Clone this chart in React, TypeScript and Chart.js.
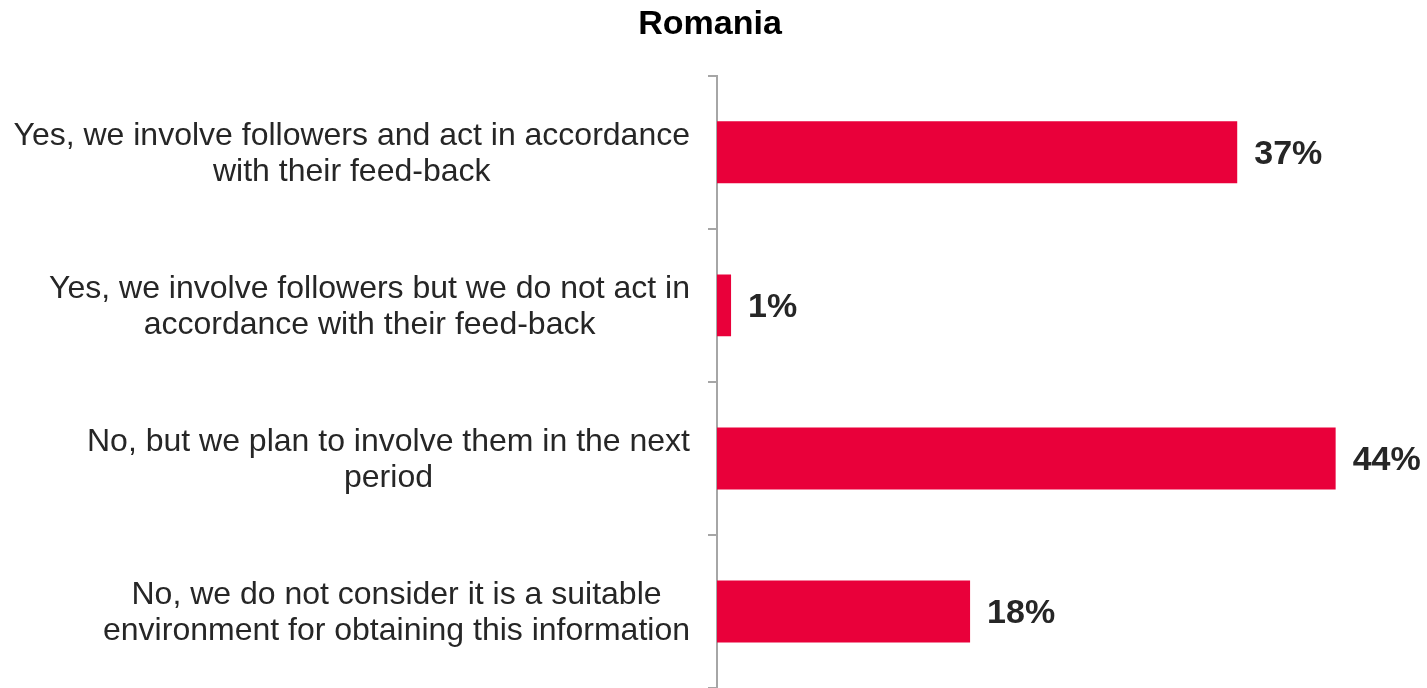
import React, { useEffect, useRef } from "react";
import { Chart, registerables } from "chart.js";

Chart.register(...registerables);

const chartTitle = "Romania";
const categoryLines: string[][] = [
  ["Yes, we involve followers and act in accordance", "with their feed-back"],
  ["Yes, we involve followers but we do not act in", "accordance with their feed-back"],
  ["No, but we plan to involve them in the next", "period"],
  ["No, we do not consider it is a suitable", "environment for obtaining this information"],
];
const values: number[] = [37, 1, 44, 18];
const xMax = 50;

const BAR_COLOR = "#E9003A";
const TEXT_COLOR = "#262626";
const AXIS_COLOR = "#A6A6A6";
const FONT = "'Liberation Sans', Arial, sans-serif";

const labelPlugin = {
  id: "customLabels",
  afterDraw(chart: any) {
    const ctx = chart.ctx;
    const yScale = chart.scales.y;
    const xScale = chart.scales.x;
    ctx.save();
    // category labels: block right-aligned, lines centered
    ctx.font = `32px ${FONT}`;
    ctx.fillStyle = TEXT_COLOR;
    ctx.textAlign = "center";
    ctx.textBaseline = "middle";
    const rightEdge = chart.chartArea.left - 27;
    const lineH = 36;
    categoryLines.forEach((lines, i) => {
      const yc = yScale.getPixelForValue(i) + 2;
      const w = Math.max(...lines.map((l) => ctx.measureText(l).width));
      const cx = rightEdge - w / 2;
      const startY = yc - ((lines.length - 1) * lineH) / 2;
      lines.forEach((l, j) => ctx.fillText(l, cx, startY + j * lineH));
    });
    // value labels
    ctx.font = `bold 34px ${FONT}`;
    ctx.textAlign = "left";
    values.forEach((v, i) => {
      const x = xScale.getPixelForValue(v) + 17;
      const y = yScale.getPixelForValue(i);
      ctx.fillText(`${v}%`, x, y + 2);
    });
    ctx.restore();
  },
};

export default function App() {
  const canvasRef = useRef<HTMLCanvasElement | null>(null);

  useEffect(() => {
    if (!canvasRef.current) return;
    const chart = new Chart(canvasRef.current, {
      type: "bar",
      data: {
        labels: categoryLines.map((l) => l.join(" ")),
        datasets: [
          {
            data: values,
            backgroundColor: BAR_COLOR,
            barPercentage: 0.405,
            categoryPercentage: 1,
          },
        ],
      },
      plugins: [labelPlugin],
      options: {
        indexAxis: "y",
        animation: false,
        responsive: false,
        maintainAspectRatio: false,
        layout: { padding: { left: 0, right: 7, top: 0, bottom: 0 } },
        plugins: {
          legend: { display: false },
          tooltip: { enabled: false },
          title: {
            display: true,
            text: chartTitle,
            color: "#000000",
            font: { family: FONT, size: 34, weight: "bold" },
            padding: { top: 4, bottom: 31 },
          },
        },
        scales: {
          x: {
            display: false,
            min: 0,
            max: xMax,
          },
          y: {
            offset: true,
            afterFit: (scale: any) => {
              scale.width = 717;
              scale.paddingTop = 0;
              scale.paddingBottom = 0;
            },
            ticks: {
              display: false,
            },
            grid: {
              offset: true,
              drawOnChartArea: false,
              drawTicks: true,
              tickLength: 9,
              color: AXIS_COLOR,
              lineWidth: 2,
            },
            border: { display: true, color: AXIS_COLOR, width: 2 },
          },
        },
      },
    });
    return () => chart.destroy();
  }, []);

  return (
    <div style={{ position: "fixed", left: 0, top: 0, width: 1427, height: 688, background: "#fff" }}>
      <canvas ref={canvasRef} width={1427} height={688} style={{ display: "block" }} />
    </div>
  );
}
